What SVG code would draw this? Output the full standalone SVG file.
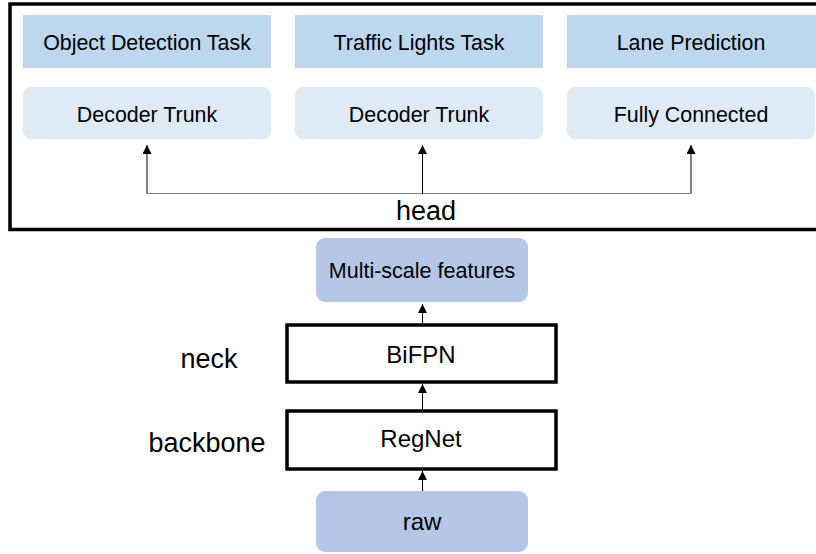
<svg xmlns="http://www.w3.org/2000/svg" width="816" height="554" viewBox="0 0 816 554">
  <style>
    text { font-family: "Liberation Sans", Arial, sans-serif; fill: #000; text-anchor: middle; }
    .task { fill: #bdd7ee; }
    .trunk { fill: #deebf7; }
    .feat { fill: #b4c7e7; }
    .block { fill: #fff; stroke: #000; stroke-width: 3.5; }
    .t21 { font-size: 21.4px; }
    .t22 { font-size: 21.5px; }
    .t24 { font-size: 24px; }
    .lbl { font-size: 27px; }
    .wire { fill: none; stroke: #000; stroke-width: 1; }
    .bus { fill: none; stroke: #7f7f7f; stroke-width: 1.2; }
  </style>
  <defs>
    <!-- filled triangular arrowhead, tip at the end of the line -->
    <marker id="arrow" markerUnits="userSpaceOnUse" markerWidth="9" markerHeight="9" viewBox="0 0 10 10" refX="10" refY="5" orient="auto">
      <path d="M0,0 L10,5 L0,10 Z" fill="#000"/>
    </marker>
  </defs>

  <rect width="816" height="554" fill="#fff"/>

  <!-- head frame -->
  <g id="head">
    <rect x="10" y="4" width="820" height="225.5" fill="none" stroke="#000" stroke-width="3.5"/>
    <text class="lbl" x="426" y="220">head</text>
  </g>

  <g id="task-object">
    <rect class="task" x="23" y="15" width="248" height="53"/>
    <text class="t21" x="147" y="50">Object Detection Task</text>
  </g>
  <g id="task-traffic">
    <rect class="task" x="295" y="15" width="248" height="53"/>
    <text class="t21" x="419" y="50">Traffic Lights Task</text>
  </g>
  <g id="task-lane">
    <rect class="task" x="567" y="15" width="260" height="53"/>
    <text class="t21" x="691" y="50">Lane Prediction</text>
  </g>

  <g id="trunk-object">
    <rect class="trunk" x="23" y="87" width="248" height="52" rx="8"/>
    <text class="t21" x="147" y="122">Decoder Trunk</text>
  </g>
  <g id="trunk-traffic">
    <rect class="trunk" x="295" y="87" width="248" height="52" rx="8"/>
    <text class="t21" x="419" y="122">Decoder Trunk</text>
  </g>
  <g id="fc-lane">
    <rect class="trunk" x="567" y="87" width="248" height="52" rx="8"/>
    <text class="t21" x="691" y="122">Fully Connected</text>
  </g>

  <!-- lower stack -->
  <g id="features">
    <rect class="feat" x="316" y="238" width="212" height="64" rx="9"/>
    <text class="t22" x="422" y="278">Multi-scale features</text>
  </g>
  <g id="bifpn">
    <rect class="block" x="287" y="325" width="269" height="57"/>
    <text class="t24" x="421" y="363">BiFPN</text>
  </g>
  <g id="regnet">
    <rect class="block" x="287" y="411" width="269" height="58"/>
    <text class="t24" x="421" y="447">RegNet</text>
  </g>
  <g id="raw">
    <rect class="feat" x="316" y="491" width="212" height="61" rx="9"/>
    <text class="t24" x="422" y="530">raw</text>
  </g>

  <g id="stage-labels">
    <text class="lbl" x="209" y="368">neck</text>
    <text class="lbl" x="207" y="452">backbone</text>
  </g>

  <!-- connectors -->
  <g id="connectors">
    <path class="bus" d="M147 193.5 H691"/>
    <path class="wire" d="M147 193.5 V145" marker-end="url(#arrow)"/>
    <path class="wire" d="M422.5 193.5 V145" marker-end="url(#arrow)"/>
    <path class="wire" d="M691 193.5 V145" marker-end="url(#arrow)"/>
    <path class="wire" d="M422.5 323 V304" marker-end="url(#arrow)"/>
    <path class="wire" d="M422.5 409 V384" marker-end="url(#arrow)"/>
    <path class="wire" d="M422.5 491 V471" marker-end="url(#arrow)"/>
  </g>
</svg>
